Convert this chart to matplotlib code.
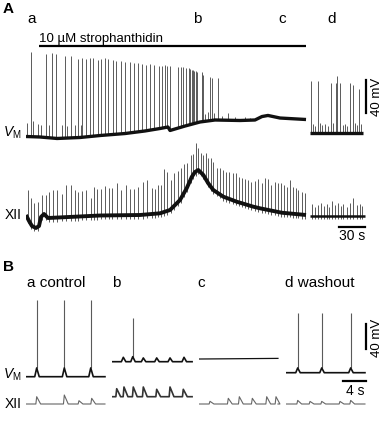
import numpy as np
import matplotlib
matplotlib.use('Agg')
import matplotlib.pyplot as plt

plt.rcParams['font.family'] = ['Liberation Sans', 'DejaVu Sans']
plt.rcParams['mathtext.fontset'] = 'custom'
plt.rcParams['mathtext.rm'] = 'Liberation Sans'
plt.rcParams['mathtext.it'] = 'Liberation Sans:italic'

# ================= DATA =================
# ---- Panel A, membrane potential (time in s, voltage in mV) ----
a_vm_base_t = [0, 16.2, 35.8, 62.3, 85.4, 114.2, 137.3, 154.6, 163.8, 166.2,
               183.5, 200.8, 218.1, 246.9, 264.2, 272.3, 279.2, 293.1, 323.1]
a_vm_base_v = [-60, -60.6, -62.4, -61.2, -58.8, -56.4, -53.3, -50.3, -48.5, -52.7,
               -47.3, -42.4, -40.0, -40.6, -40.0, -35.8, -34.5, -37.6, -39.4]
a_vm_spike_t = [5.4, 22.7, 30.0, 34.6, 45.3, 51.6, 60.0, 64.6, 69.2, 73.5, 77.3,
                82.7, 86.5, 91.2, 95.0, 100.0, 103.8, 109.6, 114.6, 119.6, 124.3,
                129.2, 133.8, 138.8, 143.4, 148.0, 153.1, 156.9, 160.4, 163.0,
                166.2, 175.7, 178.5, 181.5, 184.2, 188.4, 189.6, 191.2, 192.5,
                194.2, 195.6, 197.0, 202.7, 203.6, 204.6, 212.3, 214.9, 221.9]
a_vm_spike_v = [42.4, 40.0, 41.2, 39.6, 37.6, 37.2, 33.9, 34.8, 33.9, 35.1, 35.1,
                32.7, 33.9, 34.8, 33.9, 32.7, 31.5, 31.5, 30.7, 30.7, 29.5,
                29.5, 27.5, 26.7, 27.5, 26.7, 25.8, 25.5, 26.7, 25.8,
                25.8, 24.6, 24.6, 24.6, 23.4, 22.7, 22.0, 20.6, 20.5,
                19.4, 19.0, 18.5, 17.8, 16.0, 14.5, 12.5, 10.5, 11.3]
a_vm_small_t = [0.8, 8.4, 13.8, 17.7, 26.5, 41.2, 47.7, 56.2, 63.1,
                206.5, 210.0, 216.9, 226.2, 233.4, 241.2, 252.7, 258.5]
a_vm_small_v = [-43.6, -41.2, -44.8, -46.1, -46.1, -46.1, -47.3, -46.1, -46.1,
                -32.7, -30.3, -31.5, -35.1, -31.9, -36.4, -36.4, -37.6]

# washout segment (d) of panel A
d_vm_span = [327.7, 389.2]
d_vm_base = -56.1
d_vm_spike_t = [328.8, 336.6, 351.9, 357.7, 359.2, 362.3, 373.8, 377.7, 384.6]
d_vm_spike_v = [7.3, 7.3, 4.5, 4.5, 13.3, 4.5, 4.5, 2.4, -2.8]
d_vm_small_t = [331.2, 333.5, 339.2, 341.5, 345.0, 348.4, 354.2, 365.8, 368.1,
                370.4, 379.6, 381.9, 386.5]
d_vm_small_v = [-45, -47, -44, -46, -45, -47, -44, -46, -45, -47, -44, -46, -45]

# drug application (s) and its label
drug_span = [14.6, 323.1]
drug_label = '10 µM strophanthidin'

# ---- Panel A, XII nerve (arbitrary units) ----
a_xii_base_t = [0, 3.5, 6.9, 11.5, 15.0, 17.3, 20.8, 25.4, 85.4, 131.5, 154.6,
                166.2, 177.7, 185.4, 191.2, 195.0, 198.8, 204.6, 210.3, 216.1,
                227.7, 243.1, 262.3, 270.0, 295.0, 323.1]
a_xii_base_v = [1, -5, -10, -12, -10, -1, 2, -2, 0.5, 1, 2.7,
                6, 16, 27.7, 39, 44, 46, 41, 32.7, 26,
                19.3, 14.3, 9.3, 7.7, 3.3, 1]
a_xii_burst_t = [2.3, 6.1, 9.2, 13.8, 18.8, 22.7, 26.5, 31.5, 36.1, 41.2, 46.5,
                 51.6, 56.5, 60.3, 65.0, 69.6, 74.7, 78.5, 82.3, 86.9, 91.2,
                 95.8, 99.6, 104.7, 109.3, 115.0, 120.0, 124.6, 129.6, 134.7,
                 139.3, 145.0, 148.8, 152.7, 155.4, 159.2, 163.0, 167.0, 171.1,
                 175.0, 178.5, 182.3, 185.4, 190.0, 193.0, 195.8, 198.8, 201.6,
                 204.6, 207.3, 210.3, 213.5, 216.1, 220.0, 223.8, 227.7, 230.8,
                 234.6, 238.5, 242.0, 245.8, 248.9, 252.7, 256.5, 259.6, 264.2,
                 268.0, 272.0, 275.8, 279.6, 282.7, 287.3, 290.4, 294.2, 298.0,
                 300.8, 304.6, 307.7, 311.2, 314.2, 318.1, 321.9]
a_xii_burst_v = [26, 17.7, 13.3, 14.3, 21, 21, 24.3, 26, 26, 22, 31,
                 31, 26, 24.3, 25.3, 26, 18.3, 29.3, 26.7, 26.7, 30,
                 27.7, 27.7, 32.7, 26, 31, 26.7, 26.7, 29.3, 34.3,
                 36, 27.7, 26.7, 31, 31, 46.7, 43.7, 36, 42.7,
                 45.3, 47.7, 52, 52.7, 61, 62, 73.3, 67.7, 62.7,
                 61, 62.7, 57.7, 57.7, 54.3, 47.7, 47.7, 46, 44.3,
                 44.3, 42.7, 42.7, 39.3, 37.7, 36.7, 36, 34.3, 35.3,
                 36.7, 33.3, 37.7, 36.7, 31, 34.3, 33.3, 32.7, 31,
                 29.3, 36, 29.3, 27.7, 26, 24.3, 22.7]
d_xii_span = [327.7, 391.2]
d_xii_base = 0
d_xii_burst_t = [330.3, 333.5, 336.6, 340.4, 343.8, 346.9, 349.9, 353.4, 356.5,
                 360.4, 363.5, 366.1, 370.0, 373.8, 377.7, 381.5, 385.4, 388.0]
d_xii_burst_v = [12, 9, 11, 13, 10, 12, 9, 15, 11, 13, 10, 12, 9, 13, 17.7, 11, 12, 10]

# ---- Panel B (expanded 14 s windows) ----
b_labels = ['a control', 'b', 'c', 'd washout']
b_vm_end = [14.1, 14.3, 14.1, 14.1]
b_vm_base = [-60, -36, -31.7, -53.6]
b_vm_spike_t = [[1.91, 6.84, 11.56], [3.70], [], [2.09, 6.38, 11.55]]
b_vm_spike_v = [[62.7, 62.7, 62.7], [33.4], [], [41.4, 41.4, 41.4]]
b_vm_hump_t = [[1.91, 6.84, 11.56], [2.02, 3.70, 5.59, 7.98, 10.36, 12.86], [],
               [2.09, 6.38, 11.55]]
b_vm_hump_v = [[-46, -46, -46], [-29, -28, -30, -30, -30, -29], [], [-46, -46, -46]]
b_xii_base = [0, 7.3, 0, 0]
b_xii_bump_t = [[1.91, 6.84, 9.46, 11.73],
                [0.84, 2.14, 3.80, 5.59, 7.98, 10.36, 12.73],
                [1.96, 5.23, 7.20, 9.52, 12.09, 13.75],
                [2.09, 4.29, 6.38, 9.64, 11.55]]
b_xii_bump_v = [[7.3, 9, 3.3, 5.7],
                [15.3, 17, 17, 17, 14.7, 17, 14.7],
                [2.7, 5.7, 7.3, 5.7, 7.3, 7.3],
                [3.6, 2.6, 2.6, 2.6, 3.6]]

# ================= FIGURE =================
W, H = 384, 430
fig = plt.figure(figsize=(W / 100, H / 100), dpi=100)


def trace_axes(x0, x1, y0, y1, t_left, y_ref, v_ref, s_per_px, u_per_px):
    ax = fig.add_axes([x0 / W, 1 - y1 / H, (x1 - x0) / W, (y1 - y0) / H])
    ax.set_xlim(t_left, t_left + (x1 - x0) * s_per_px)
    vb = v_ref - (y1 - y_ref) * u_per_px
    ax.set_ylim(vb, vb + (y1 - y0) * u_per_px)
    ax.set_axis_off()
    return ax


def ftext(x, y, s, **kw):
    kw.setdefault('va', 'center')
    fig.text(x / W, 1 - y / H, s, **kw)


SPK = '#5a5a5a'
BASE = '#111111'

# ---- Panel A VM ----
sA, vA = 30 / 26, 40 / 33
axA = trace_axes(26, 384, 30, 150, 0, 136.5, -60, sA, vA)
bt = np.array(a_vm_spike_t)
axA.vlines(bt, np.interp(bt, a_vm_base_t, a_vm_base_v), a_vm_spike_v, color=SPK, lw=0.7)
st = np.array(a_vm_small_t)
axA.vlines(st, np.interp(st, a_vm_base_t, a_vm_base_v), a_vm_small_v, color=SPK, lw=0.7)
axA.plot(a_vm_base_t, a_vm_base_v, color=BASE, lw=2.4, solid_capstyle='butt')
axA.vlines(d_vm_spike_t, d_vm_base, d_vm_spike_v, color=SPK, lw=0.7)
axA.vlines(d_vm_small_t, d_vm_base, d_vm_small_v, color=SPK, lw=0.7)
axA.plot(d_vm_span, [d_vm_base, d_vm_base], color=BASE, lw=2.4, solid_capstyle='butt')
# drug bar and 40 mV scale bar
axA.plot(drug_span, [49.7, 49.7], color='black', lw=1.6, solid_capstyle='butt')
axA.text(drug_span[0], 58.5, drug_label, fontsize=9.5, va='center', ha='left')
axA.plot([391.9, 391.9], [-31.3, 8.7], color='black', lw=1.6)

# ---- Panel A XII ----
axX = trace_axes(26, 384, 140, 245, 0, 216, 0, sA, 1.0)
xt = np.array(a_xii_burst_t)
xb = np.interp(xt, a_xii_base_t, a_xii_base_v)
axX.vlines(xt, xb - 4, a_xii_burst_v, color=SPK, lw=0.7)
axX.plot(a_xii_base_t, a_xii_base_v, color=BASE, lw=2.8, solid_capstyle='butt')
axX.vlines(d_xii_burst_t, d_xii_base - 3, d_xii_burst_v, color=SPK, lw=0.7)
axX.plot(d_xii_span, [d_xii_base, d_xii_base], color=BASE, lw=1.8, solid_capstyle='butt')
axX.plot([361, 391], [-10.7, -10.7], color='black', lw=1.6)

# ---- Panel B ----
sB, vB = 4 / 22.4, 40 / 25
b_x0 = [26, 112, 199, 286]
b_x1 = [110, 196, 283, 384]
for i in range(4):
    axv = trace_axes(b_x0[i], b_x1[i], 290, 385, 0, 376.7, -60, sB, vB)
    tt, vv = [0], [b_vm_base[i]]
    for th, vh in zip(b_vm_hump_t[i], b_vm_hump_v[i]):
        tt += [th - 0.35, th, th + 0.45]
        vv += [b_vm_base[i], vh, b_vm_base[i]]
    tt.append(b_vm_end[i])
    vv.append(b_vm_base[i] + (1.0 if i == 2 else 0))
    hv = dict(zip(b_vm_hump_t[i], b_vm_hump_v[i]))
    axv.vlines(b_vm_spike_t[i], [hv[t] for t in b_vm_spike_t[i]], b_vm_spike_v[i],
               color=SPK, lw=0.8)
    axv.plot(tt, vv, color=BASE, lw=1.2 if i != 2 else 0.9)

    axx = trace_axes(b_x0[i], b_x1[i], 380, 415, 0, 404, 0, sB, 1.0)
    tx, lx = [0], [b_xii_base[i]]
    for th, vh in zip(b_xii_bump_t[i], b_xii_bump_v[i]):
        tx += [th - 0.15, th, th + 0.7]
        lx += [b_xii_base[i], vh, b_xii_base[i]]
    tx.append(b_vm_end[i])
    lx.append(b_xii_base[i])
    if i == 1:
        axx.plot(tx, lx, color='#333333', lw=1.2)
    else:
        axx.plot(tx, lx, color='#666666', lw=0.8)
    if i == 3:
        axv.plot([14.23, 14.23], [-15.7, 24.3], color='black', lw=1.6)
        axv.plot([10.23, 14.23], [-66.9, -66.9], color='black', lw=1.6, clip_on=False)

# ================= TEXT =================
ftext(3, 9, 'A', fontsize=11, fontweight='bold')
for x, s in [(27, 'a'), (193, 'b'), (278, 'c'), (327, 'd')]:
    ftext(x, 19, s, fontsize=11)
ftext(22, 133, r'$V_\mathrm{M}$', fontsize=10, ha='right')
ftext(22, 215, 'XII', fontsize=10, ha='right')
ftext(377, 97, '40 mV', fontsize=9.5, rotation=90, ha='center')
ftext(352, 236, '30 s', fontsize=10, ha='center')

ftext(3, 267, 'B', fontsize=11, fontweight='bold')
for x, s in zip([27, 112, 197, 285], b_labels):
    ftext(x, 283, s, fontsize=11)
ftext(22, 375, r'$V_\mathrm{M}$', fontsize=10, ha='right')
ftext(22, 404, 'XII', fontsize=10, ha='right')
ftext(377, 338, '40 mV', fontsize=9.5, rotation=90, ha='center')
ftext(355, 391, '4 s', fontsize=10, ha='center')

fig.savefig('out.png', dpi=100)
